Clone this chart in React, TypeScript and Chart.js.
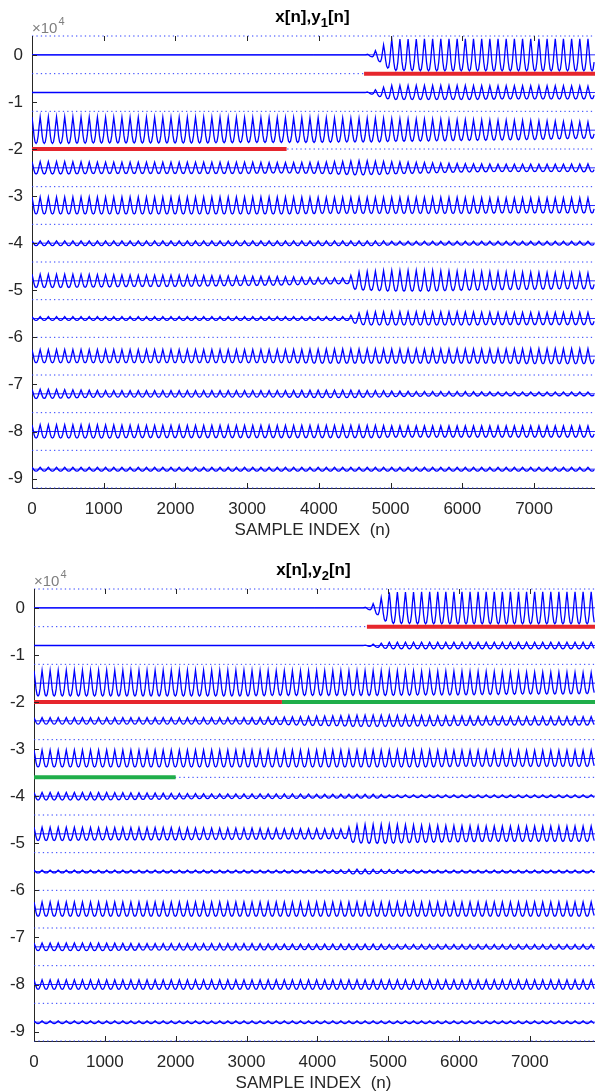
import { useEffect, useRef } from "react";
import { Chart, registerables } from "chart.js";
Chart.register(...registerables);

// ---------- data ----------
const Y_MIN = -92000;
const Y_MAX = 4000;
const X_TICKS = [0, 1000, 2000, 3000, 4000, 5000, 6000, 7000];
const Y_TICKS = [0, -10000, -20000, -30000, -40000, -50000, -60000, -70000, -80000, -90000];
const TRACE_OFFSETS = [0, -8000, -16000, -24000, -32000, -40000, -48000, -56000, -64000, -72000, -80000, -88000];
const DOTTED_LEVELS = [4000, -4000, -12000, -20000, -28000, -36000, -44000, -52000, -60000, -68000, -76000, -84000, -92000];
const SAMPLES_PER_CYCLE = 114;
const CYCLE_SHAPE = [1, 0.35, -0.45, -0.9, -1, -0.9, -0.45, 0.35];
const ENV_X = [0, 500, 1000, 1500, 2000, 2500, 3000, 3500, 4000, 4400, 4500, 4650, 4750, 4850, 5000, 5500, 6000, 6500, 7000, 7500, 7950];

const Y1_AMPS = [
  [0, 0, 0, 0, 0, 0, 0, 0, 0, 0, 0, 0, 500, 1500, 3300, 3400, 3400, 3400, 3400, 3400, 3400],
  [0, 0, 0, 0, 0, 0, 0, 0, 0, 0, 0, 0, 400, 900, 1500, 1500, 1500, 1400, 1400, 1400, 1300],
  [2800, 2800, 2700, 2700, 2700, 2700, 2600, 2600, 2600, 2500, 2500, 2500, 2500, 2500, 2400, 2300, 2200, 2100, 2000, 1800, 1700],
  [1300, 1300, 1200, 1200, 1200, 1200, 1200, 1100, 1200, 1400, 1500, 1500, 1400, 1400, 1300, 1100, 900, 800, 800, 800, 900],
  [1800, 1800, 1800, 1800, 1800, 1800, 1800, 1800, 1700, 1700, 1700, 1700, 1700, 1700, 1700, 1700, 1700, 1600, 1600, 1600, 1600],
  [500, 500, 500, 500, 500, 500, 500, 500, 500, 500, 500, 500, 500, 500, 400, 400, 400, 400, 400, 400, 400],
  [1400, 1400, 1300, 1200, 1200, 1100, 1000, 900, 700, 600, 1800, 2000, 2000, 2100, 2200, 2200, 2000, 1900, 1800, 1700, 1700],
  [400, 400, 400, 400, 400, 400, 400, 400, 400, 400, 1000, 1400, 1400, 1400, 1400, 1400, 1400, 1300, 1300, 1300, 1300],
  [1400, 1400, 1400, 1400, 1400, 1400, 1400, 1400, 1500, 1500, 1500, 1500, 1500, 1500, 1500, 1500, 1500, 1500, 1600, 1600, 1600],
  [1000, 900, 700, 700, 700, 700, 700, 700, 800, 800, 800, 700, 700, 700, 600, 500, 500, 400, 400, 400, 400],
  [1400, 1400, 1400, 1300, 1300, 1300, 1300, 1300, 1300, 1300, 1300, 1300, 1300, 1300, 1200, 1200, 1200, 1200, 1200, 1200, 1200],
  [400, 400, 400, 400, 400, 400, 400, 400, 400, 400, 400, 400, 400, 400, 400, 400, 400, 400, 400, 400, 400],
];

const Y2_AMPS = [
  [0, 0, 0, 0, 0, 0, 0, 0, 0, 0, 0, 0, 500, 1500, 3300, 3400, 3400, 3400, 3400, 3400, 3400],
  [0, 0, 0, 0, 0, 0, 0, 0, 0, 0, 0, 0, 200, 400, 700, 700, 700, 700, 700, 700, 700],
  [2700, 2700, 2700, 2700, 2700, 2700, 2700, 2600, 2600, 2600, 2600, 2600, 2600, 2600, 2600, 2500, 2500, 2400, 2300, 2300, 2200],
  [700, 700, 700, 700, 700, 700, 700, 800, 1000, 1100, 1200, 1200, 1200, 1200, 1200, 1100, 1000, 900, 900, 900, 900],
  [1800, 1800, 1800, 1800, 1800, 1800, 1800, 1800, 1800, 1800, 1800, 1800, 1800, 1800, 1800, 1800, 1700, 1700, 1700, 1700, 1700],
  [800, 800, 800, 700, 600, 500, 500, 500, 400, 400, 400, 400, 400, 400, 300, 300, 300, 300, 300, 300, 300],
  [1400, 1400, 1300, 1300, 1300, 1200, 1200, 1100, 1100, 1000, 1800, 2000, 2000, 2000, 2000, 1800, 1700, 1600, 1600, 1600, 1600],
  [300, 300, 300, 300, 300, 300, 300, 300, 300, 400, 500, 500, 500, 400, 400, 300, 300, 300, 300, 300, 300],
  [1500, 1500, 1500, 1500, 1500, 1500, 1500, 1500, 1500, 1500, 1500, 1500, 1500, 1500, 1500, 1500, 1500, 1500, 1500, 1500, 1500],
  [800, 800, 800, 700, 700, 700, 700, 600, 600, 600, 600, 600, 600, 600, 500, 500, 500, 500, 500, 500, 500],
  [1000, 1000, 1000, 1000, 1000, 1000, 1000, 1000, 1000, 1000, 1000, 1000, 1000, 1000, 1000, 1000, 1000, 1000, 1000, 1000, 1000],
  [300, 300, 300, 300, 300, 300, 300, 300, 300, 300, 300, 300, 300, 300, 300, 300, 300, 300, 300, 300, 300],
];

// highlight segments: [xStart, xEnd, level]
const Y1_RED = [[4630, 7950, -4000], [0, 3550, -20000]];
const Y1_GREEN: number[][] = [];
const Y2_RED = [[4700, 7950, -4000], [0, 3500, -20000]];
const Y2_GREEN = [[3500, 7950, -20000], [0, 2000, -36000]];

// ---------- helpers ----------
const FONT = "'Liberation Sans', Arial, Helvetica, sans-serif";
const BLUE = "#0000ff";

function envAt(amps: number[], x: number) {
  for (let k = 0; k < ENV_X.length - 1; k++) {
    if (x <= ENV_X[k + 1]) {
      const t = (x - ENV_X[k]) / (ENV_X[k + 1] - ENV_X[k]);
      return amps[k] + t * (amps[k + 1] - amps[k]);
    }
  }
  return amps[amps.length - 1];
}

function buildTrace(offset: number, amps: number[], xMax: number) {
  const step = SAMPLES_PER_CYCLE / CYCLE_SHAPE.length;
  const pts: { x: number; y: number }[] = [];
  for (let i = 0; i * step <= xMax; i++) {
    const x = i * step;
    pts.push({ x, y: offset + envAt(amps, x) * CYCLE_SHAPE[i % CYCLE_SHAPE.length] });
  }
  return pts;
}

function seg(x0: number, x1: number, y: number) {
  return [{ x: x0, y }, { x: x1, y }];
}

type PanelCfg = {
  sub: string;
  amps: number[][];
  red: number[][];
  green: number[][];
  xMax: number;
  left: number;
  height: number;
  top: number;
};

const decorPlugin = {
  id: "decor",
  afterDraw(chart: any, _args: any, opts: any) {
    const { ctx, chartArea: ca, scales } = chart;
    const xs = scales.x;
    const ys = scales.y;
    ctx.save();
    ctx.strokeStyle = "#262626";
    ctx.lineWidth = 1;
    ctx.beginPath();
    X_TICKS.forEach((v) => {
      const px = Math.round(xs.getPixelForValue(v)) + 0.5;
      ctx.moveTo(px, ca.bottom);
      ctx.lineTo(px, ca.bottom - 5);
      ctx.moveTo(px, ca.top);
      ctx.lineTo(px, ca.top + 5);
    });
    Y_TICKS.forEach((v) => {
      const py = Math.round(ys.getPixelForValue(v)) + 0.5;
      ctx.moveTo(ca.left, py);
      ctx.lineTo(ca.left + 5, py);
    });
    ctx.stroke();

    // title x[n],y_k[n]
    const cx = (ca.left + ca.right) / 2;
    const base = 21.5;
    const big = `bold 17px ${FONT}`;
    const small = `bold 13px ${FONT}`;
    ctx.fillStyle = "#000000";
    ctx.textBaseline = "alphabetic";
    ctx.textAlign = "left";
    ctx.font = big;
    const p1 = "x[n],y";
    const p3 = "[n]";
    const w1 = ctx.measureText(p1).width;
    const w3 = ctx.measureText(p3).width;
    ctx.font = small;
    const w2 = ctx.measureText(opts.sub).width;
    let x = cx - (w1 + w2 + w3) / 2 - 1;
    ctx.font = big;
    ctx.fillText(p1, x, base);
    x += w1;
    ctx.font = small;
    ctx.fillText(opts.sub, x, base + 5);
    x += w2;
    ctx.font = big;
    ctx.fillText(p3, x, base);

    // exponent label
    ctx.fillStyle = "#7f7f7f";
    ctx.font = `15px ${FONT}`;
    const ex = "\u00d710";
    ctx.fillText(ex, ca.left, ca.top - 3);
    const we = ctx.measureText(ex).width;
    ctx.font = `11px ${FONT}`;
    ctx.fillText("4", ca.left + we + 1, ca.top - 11);

    // x label
    ctx.fillStyle = "#262626";
    ctx.font = `17px ${FONT}`;
    ctx.textAlign = "center";
    ctx.textBaseline = "middle";
    ctx.fillText("SAMPLE INDEX  (n)", cx - 1, ca.bottom + 42);
    ctx.restore();
  },
};

function Panel({ cfg }: { cfg: PanelCfg }) {
  const ref = useRef<HTMLCanvasElement>(null);
  useEffect(() => {
    const canvas = ref.current!;
    const datasets: any[] = [];
    cfg.red.forEach((s) =>
      datasets.push({ data: seg(s[0], s[1], s[2]), borderColor: "#e6262d", borderWidth: 4, clip: false })
    );
    cfg.green.forEach((s) =>
      datasets.push({ data: seg(s[0], s[1], s[2]), borderColor: "#20ae4a", borderWidth: 4, clip: false })
    );
    TRACE_OFFSETS.forEach((off, i) =>
      datasets.push({ data: buildTrace(off, cfg.amps[i], cfg.xMax), borderColor: BLUE, borderWidth: 1.3 })
    );
    TRACE_OFFSETS.forEach((off) =>
      datasets.push({ data: seg(0, cfg.xMax, off), borderColor: "#2a2aff", borderWidth: 1 })
    );
    DOTTED_LEVELS.forEach((lv) =>
      datasets.push({
        data: seg(0, cfg.xMax, lv),
        borderColor: "#2a3cff",
        borderWidth: 1,
        borderDash: [1.3, 3.1],
        clip: 2,
      })
    );
    const chart = new Chart(canvas, {
      type: "line",
      data: { datasets },
      options: {
        animation: false,
        responsive: false,
        devicePixelRatio: 1,
        layout: { padding: { top: cfg.top, left: 0, right: 0, bottom: 0 } },
        elements: { point: { radius: 0 }, line: { tension: 0 } },
        plugins: { legend: { display: false }, tooltip: { enabled: false }, decor: { sub: cfg.sub } } as any,
        scales: {
          x: {
            type: "linear",
            min: 0,
            max: cfg.xMax,
            afterBuildTicks: (s: any) => {
              s.ticks = X_TICKS.map((v) => ({ value: v }));
            },
            afterFit: (s: any) => {
              s.height = cfg.height - 488;
            },
            grid: { display: false, drawTicks: false },
            border: { display: true, color: "#262626", width: 1 },
            ticks: {
              color: "#262626",
              font: { family: FONT, size: 17 },
              padding: 11,
              maxRotation: 0,
              autoSkip: false,
              callback: (v: any) => String(Math.round(Number(v))),
            },
          },
          y: {
            type: "linear",
            min: Y_MIN,
            max: Y_MAX,
            afterBuildTicks: (s: any) => {
              s.ticks = Y_TICKS.map((v) => ({ value: v }));
            },
            afterFit: (s: any) => {
              s.width = cfg.left;
            },
            grid: { display: false, drawTicks: false },
            border: { display: true, color: "#262626", width: 1 },
            ticks: {
              color: "#262626",
              font: { family: FONT, size: 17 },
              padding: 9,
              callback: (v: any) => String(Math.round(Number(v) / 10000)),
            },
          },
        },
      },
      plugins: [decorPlugin],
    });
    return () => chart.destroy();
  }, [cfg]);
  return <canvas ref={ref} width={595} height={cfg.height} style={{ display: "block", width: 595, height: cfg.height }} />;
}

const TOP_CFG: PanelCfg = { sub: "1", amps: Y1_AMPS, red: Y1_RED, green: Y1_GREEN, xMax: 7850, left: 32, height: 553, top: 36 };
const BOT_CFG: PanelCfg = { sub: "2", amps: Y2_AMPS, red: Y2_RED, green: Y2_GREEN, xMax: 7920, left: 34, height: 538, top: 36 };

export default function App() {
  return (
    <div style={{ position: "absolute", left: 0, top: 0, width: 595, height: 1091, background: "#fff" }}>
      <Panel cfg={TOP_CFG} />
      <Panel cfg={BOT_CFG} />
    </div>
  );
}
